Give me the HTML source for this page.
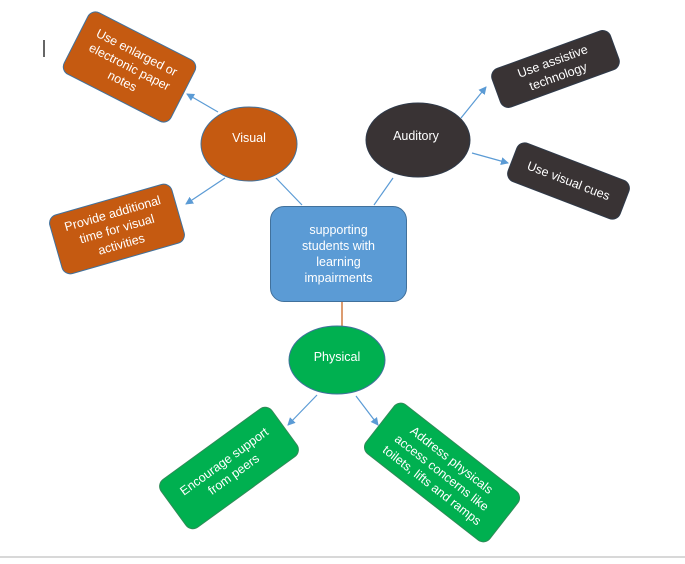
<!DOCTYPE html>
<html><head><style>
body{margin:0;width:685px;height:564px;background:#fff;position:relative;overflow:hidden;font-family:"Liberation Sans",sans-serif;}
.b{position:absolute;box-sizing:border-box;display:flex;align-items:center;justify-content:center;text-align:center;color:#fff;font-size:12.5px;line-height:16px;border-radius:9px;}
.o{background:#c55a11;border:1.5px solid #41719c;}
.d{background:#393334;border:1.5px solid #2f3a4a;}
.g{background:#00b050;border:1.5px solid #2e8b57;}
</style></head><body>
<svg width="685" height="564" style="position:absolute;left:0;top:0">
<defs><marker id="a" markerWidth="8" markerHeight="8" refX="7" refY="4" orient="auto" markerUnits="userSpaceOnUse"><path d="M0,0 L8,4 L0,8 z" fill="#5b9bd5"/></marker></defs>
<g stroke="#5b9bd5" stroke-width="1.2" fill="none">
<line x1="218" y1="112" x2="187" y2="94" marker-end="url(#a)"/>
<line x1="225" y1="178" x2="186" y2="204" marker-end="url(#a)"/>
<line x1="276" y1="178" x2="302" y2="205"/>
<line x1="393" y1="178" x2="374" y2="205"/>
<line x1="461" y1="118" x2="486" y2="87" marker-end="url(#a)"/>
<line x1="472" y1="153" x2="508" y2="163" marker-end="url(#a)"/>
<line x1="317" y1="395" x2="288" y2="425" marker-end="url(#a)"/>
<line x1="356" y1="396" x2="378" y2="425" marker-end="url(#a)"/>
</g>
<line x1="342" y1="302" x2="342" y2="329" stroke="#c55a11" stroke-width="1.2"/>
<ellipse cx="249" cy="144" rx="48" ry="37" fill="#c55a11" stroke="#41719c" stroke-width="1"/>
<ellipse cx="418" cy="140" rx="52" ry="37" fill="#393334" stroke="#2f3a4a" stroke-width="1"/>
<ellipse cx="337" cy="360" rx="48" ry="34" fill="#00b050" stroke="#41719c" stroke-width="1"/>
<g fill="#fff" font-family="Liberation Sans, sans-serif" font-size="12.5" text-anchor="middle">
<text x="249" y="142">Visual</text>
<text x="416" y="140">Auditory</text>
<text x="337" y="361">Physical</text>
</g>
<line x1="44" y1="40" x2="44" y2="57" stroke="#000" stroke-width="1.2"/>
<line x1="0" y1="557" x2="685" y2="557" stroke="#ccc" stroke-width="1.5"/>
</svg>
<div class="b" style="left:270px;top:206px;width:137px;height:96px;background:#5b9bd5;border:1.5px solid #41719c;border-radius:14px;">supporting<br>students with<br>learning<br>impairments</div>
<div class="b o" style="left:69px;top:32px;width:121px;height:70px;transform:rotate(27deg)">Use enlarged or<br>electronic paper<br>notes</div>
<div class="b o" style="left:53px;top:198px;width:128px;height:62px;transform:rotate(-16deg)">Provide additional<br>time for visual<br>activities</div>
<div class="b d" style="left:492px;top:48px;width:127px;height:42px;transform:rotate(-20deg)">Use assistive<br>technology</div>
<div class="b d" style="left:508px;top:160px;width:121px;height:42px;transform:rotate(21deg)">Use visual cues</div>
<div class="b g" style="left:160px;top:438px;width:138px;height:60px;transform:rotate(-36deg)">Encourage support<br>from peers</div>
<div class="b g" style="left:363px;top:441px;width:158px;height:63px;transform:rotate(38deg)">Address physicals<br>access concerns like<br>toilets, lifts and ramps</div>
</body></html>
